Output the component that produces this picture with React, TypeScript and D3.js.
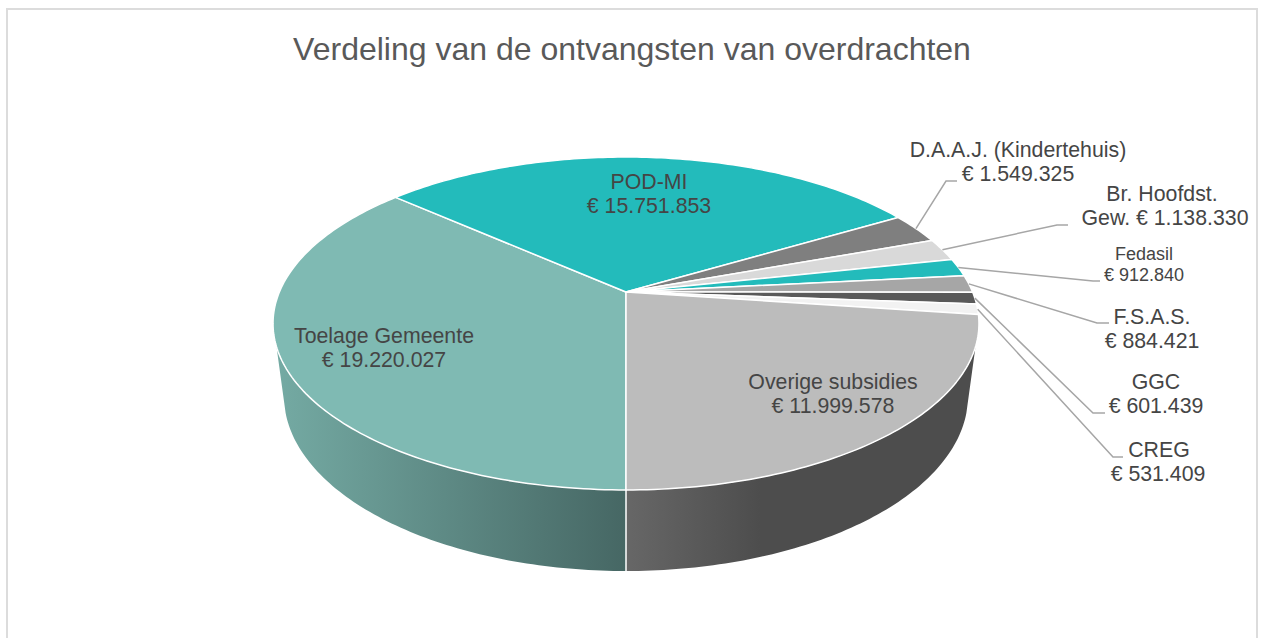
import React from "react";
import * as d3 from "d3";

const title = "Verdeling van de ontvangsten van overdrachten";
const names = ["Toelage Gemeente", "POD-MI", "D.A.A.J. (Kindertehuis)", "Br. Hoofdst.", "Fedasil", "F.S.A.S.", "GGC", "CREG", "Overige subsidies"];
const values = [19220027, 15751853, 1549325, 1138330, 912840, 884421, 601439, 531409, 11999578];
const amounts = ["€ 19.220.027", "€ 15.751.853", "€ 1.549.325", "Gew. € 1.138.330", "€ 912.840", "€ 884.421", "€ 601.439", "€ 531.409", "€ 11.999.578"];
const colors = ["#7fbab3", "#23bbbb", "#7f7f7f", "#d9d9d9", "#23bbbb", "#a6a6a6", "#595959", "#f2f2f2", "#bcbcbc"];

// Layout (screen anchors of labels and leader elbows; not data)
const labelX = [384, 649, 1018, 1165, 1144, 1152, 1156, 1158, 833];
const firstLineDx = [0, 0, 0, -3, 0, 0, 0, 1, 0];
const labelY = [343, 189, 157, 201, 260, 324, 389, 457, 389];
const labelSize = [21.3, 21.3, 21.3, 21.3, 18, 21.3, 21.3, 21.3, 21.3];
const elbow: [number, number][][] = [
  [], [],
  [[946, 181], [957, 181]],
  [[1057, 225], [1068, 225]],
  [[1093, 281], [1100, 281]],
  [[1097, 323], [1109, 323]],
  [[1093, 413], [1105, 413]],
  [[1113, 457], [1123, 457]],
  [],
];

// Perspective disc: apex and projection constants
const CX = 626, CY = 292, K = 0.1892, A = 346.6, B = 160.5;
const proj = (theta: number, r = 1): [number, number] => {
  const u = -Math.sin(theta) * r, v = Math.cos(theta) * r, w = 1 - K * v;
  return [CX + (A * u) / w, CY + (B * v) / w];
};

// Bottom rim ellipse and side-wall limits
const BOT = { yc: 396, a: 342, b: 175 };
const TOP = { yc: 323.5, a: 353, b: 166.5 };
const WALL_TOP_Y = 347, WALL_BOT_Y = 413;

const ellipsePts = (e: typeof BOT, t0: number, t1: number, n = 80): [number, number][] =>
  d3.range(n + 1).map((i) => {
    const t = t0 + ((t1 - t0) * i) / n;
    return [CX + e.a * Math.cos(t), e.yc + e.b * Math.sin(t)] as [number, number];
  });

export default function App() {
  const pie = d3.pie<number>().sort(null).startAngle(0).endAngle(2 * Math.PI)(values);
  const line = d3.line();

  const slicePath = (a0: number, a1: number) => {
    const n = Math.max(4, Math.ceil((a1 - a0) * 60));
    const pts: [number, number][] = d3.range(n + 1).map((i) => proj(a0 + ((a1 - a0) * i) / n));
    return line([[CX, CY], ...pts, [CX, CY]]) + "Z";
  };

  const tTop = Math.asin((WALL_TOP_Y - TOP.yc) / TOP.b);
  const tBot = Math.asin((WALL_BOT_Y - BOT.yc) / BOT.b);
  const wall = (side: "l" | "r") => {
    const pts =
      side === "r"
        ? [...ellipsePts(TOP, tTop, Math.PI / 2), ...ellipsePts(BOT, Math.PI / 2, tBot)]
        : [...ellipsePts(TOP, Math.PI / 2, Math.PI - tTop), ...ellipsePts(BOT, Math.PI - tBot, Math.PI / 2)];
    return line(pts) + "Z";
  };

  const font = "'Liberation Sans', Arial, sans-serif";

  return (
    <svg width={1263} height={638} viewBox="0 0 1263 638" style={{ position: "absolute", left: 0, top: 0, display: "block" }} fontFamily={font}>
      <defs>
        <linearGradient id="wallL" gradientUnits="userSpaceOnUse" x1={278} x2={626} y1={0} y2={0}>
          <stop offset="0" stopColor="#74aaa3" />
          <stop offset="1" stopColor="#466764" />
        </linearGradient>
        <linearGradient id="wallR" gradientUnits="userSpaceOnUse" x1={626} x2={760} y1={0} y2={0}>
          <stop offset="0" stopColor="#676767" />
          <stop offset="1" stopColor="#4d4d4d" />
        </linearGradient>
      </defs>
      <rect x={0} y={0} width={1263} height={638} fill="#fff" />
      <rect x={7} y={9} width={1250} height={660} fill="#fff" stroke="#dcdcdc" strokeWidth={2} />
      <text x={632} y={59.5} textAnchor="middle" fontSize={32} fill="#595959">{title}</text>

      <path d={wall("l")} fill="url(#wallL)" />
      <path d={wall("r")} fill="url(#wallR)" />
      <line x1={CX} x2={CX} y1={490} y2={571} stroke="#fff" strokeWidth={1.5} />

      {pie.map((p, i) => (
        <path key={i} d={slicePath(p.startAngle, p.endAngle)} fill={colors[i]} stroke="#fff" strokeWidth={1.5} strokeLinejoin="round" />
      ))}

      {pie.map((p, i) =>
        elbow[i].length ? (
          <path
            key={i}
            d={line([proj((p.startAngle + p.endAngle) / 2, 1.0), ...elbow[i]]) as string}
            fill="none"
            stroke="#a6a6a6"
            strokeWidth={1.5}
          />
        ) : null
      )}

      {names.map((n, i) => (
        <text key={i} textAnchor="middle" fontSize={labelSize[i]} fill="#454545">
          <tspan x={labelX[i] + firstLineDx[i]} y={labelY[i]}>{n}</tspan>
          <tspan x={labelX[i]} y={labelY[i] + (labelSize[i] === 18 ? 21 : 24)}>{amounts[i]}</tspan>
        </text>
      ))}
    </svg>
  );
}
